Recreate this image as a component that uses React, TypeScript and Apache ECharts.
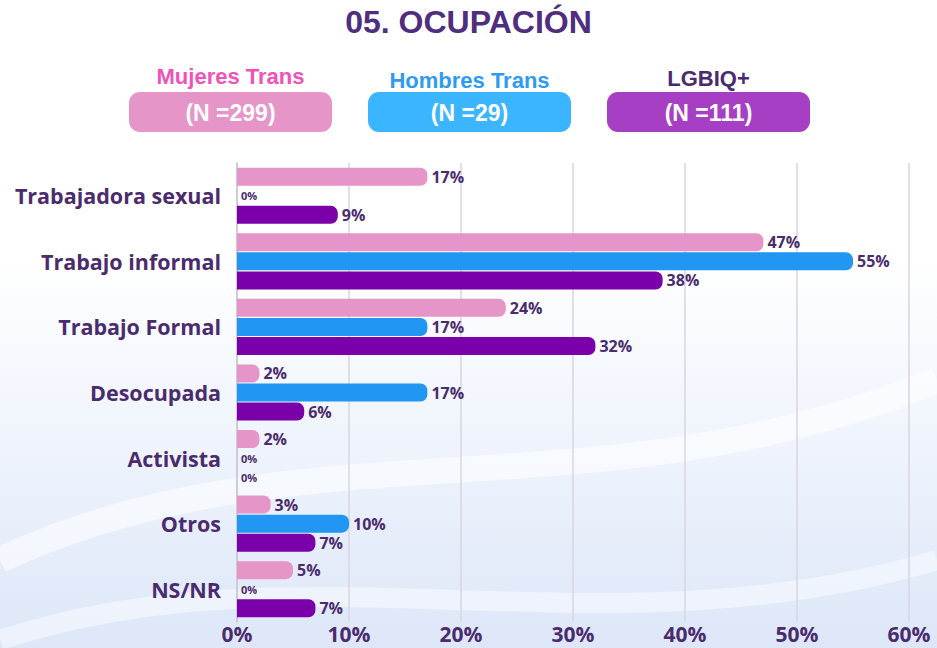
import React, { useEffect, useRef } from "react";
import * as echarts from "echarts";

const categories = ["Trabajadora sexual", "Trabajo informal", "Trabajo Formal", "Desocupada", "Activista", "Otros", "NS/NR"];
const mujeresTrans = [17, 47, 24, 2, 2, 3, 5];
const hombresTrans = [0, 55, 17, 17, 0, 10, 0];
const lgbiq = [9, 38, 32, 6, 0, 7, 7];
const xTicks = [0, 10, 20, 30, 40, 50, 60];
const groups = [
  { name: "Mujeres Trans", n: "(N =299)", titleColor: "#F052B9", box: "#E595C8", bar: "#E595C8", values: mujeresTrans, titleY: 76 },
  { name: "Hombres Trans", n: "(N =29)", titleColor: "#2E9BF0", box: "#3BB5FF", bar: "#2196F3", values: hombresTrans, titleY: 80 },
  { name: "LGBIQ+", n: "(N =111)", titleColor: "#4A2C6E", box: "#A63FC4", bar: "#7A00AA", values: lgbiq, titleY: 78 },
];

const TEXT = "#4A2C6E";
const SANS = "'Liberation Sans', Arial, sans-serif";

export default function App() {
  const ref = useRef<HTMLDivElement>(null);
  useEffect(() => {
    if (!ref.current) return;
    const chart = echarts.init(ref.current, undefined, { renderer: "svg" });
    const boxX = [129, 368, 607];
    const graphic: any[] = [
      {
        type: "rect",
        silent: true,
        z: -10,
        shape: { x: 0, y: 0, width: 937, height: 648 },
        style: {
          fill: new echarts.graphic.LinearGradient(0, 0, 0, 1, [
            { offset: 0, color: "#ffffff" },
            { offset: 0.4, color: "#ffffff" },
            { offset: 0.7, color: "#eef3fc" },
            { offset: 1, color: "#dde7f8" },
          ]),
        },
      },
      {
        type: "bezierCurve",
        silent: true,
        z: -9,
        shape: { x1: 0, y1: 560, x2: 937, y2: 380, cpx1: 300, cpy1: 420, cpx2: 600, cpy2: 520 },
        style: { stroke: "rgba(255,255,255,0.55)", lineWidth: 26, fill: null },
      },
      {
        type: "bezierCurve",
        silent: true,
        z: -9,
        shape: { x1: 0, y1: 640, x2: 937, y2: 560, cpx1: 300, cpy1: 540, cpx2: 600, cpy2: 660 },
        style: { stroke: "rgba(255,255,255,0.45)", lineWidth: 20, fill: null },
      },
      {
        type: "text",
        left: "center",
        top: 6,
        style: { text: "05. OCUPACIÓN", font: `bold 32px ${SANS}`, fill: "#4F2D7F" },
      },
    ];
    groups.forEach((g, i) => {
      graphic.push({
        type: "rect",
        shape: { x: boxX[i], y: 92, width: 203, height: 40, r: 11 },
        style: { fill: g.box },
      });
      graphic.push({
        type: "text",
        x: boxX[i] + 101.5,
        y: 113,
        style: { text: g.n, font: `bold 23px ${SANS}`, fill: "#ffffff", textAlign: "center", textVerticalAlign: "middle" },
      });
      graphic.push({
        type: "text",
        x: boxX[i] + 101.5,
        y: g.titleY,
        style: { text: g.name, font: `bold 22px ${SANS}`, fill: g.titleColor, textAlign: "center", textVerticalAlign: "middle" },
      });
    });

    const series = groups.map((g) => ({
      type: "bar",
      name: g.name,
      barWidth: 18,
      barGap: "6%",
      itemStyle: { color: g.bar, borderRadius: [0, 7, 7, 0] },
      data: g.values.map((v) => ({
        value: v,
        label: v === 0 ? { fontSize: 11 } : undefined,
      })),
      label: {
        show: true,
        position: "right",
        distance: 4,
        formatter: (p: any) => `${p.value}%`,
        color: TEXT,
        fontWeight: "bold",
        fontSize: 16,
        fontFamily: "'Open Sans', sans-serif",
      },
    }));

    chart.setOption({
      animation: false,
      graphic,
      grid: { left: 237, right: 28, top: 163, bottom: 26, containLabel: false },
      xAxis: {
        type: "value",
        min: xTicks[0],
        max: xTicks[xTicks.length - 1],
        interval: 10,
        axisLine: { show: false },
        axisTick: { show: false },
        splitLine: { show: true, lineStyle: { color: "#d9d5e2", width: 1.5 } },
        axisLabel: {
          formatter: (v: number) => `${v}%`,
          color: TEXT,
          fontWeight: "bold",
          fontSize: 21,
          fontFamily: "'Open Sans', sans-serif",
          margin: 1,
        },
      },
      yAxis: {
        type: "category",
        inverse: true,
        data: categories,
        axisLine: { show: true, lineStyle: { color: "#c9c5d2", width: 1.5 } },
        axisTick: { show: false },
        axisLabel: {
          color: TEXT,
          fontWeight: "bold",
          fontSize: 21.5,
          fontFamily: "'Open Sans', sans-serif",
          margin: 16,
        },
      },
      series,
    });
    return () => chart.dispose();
  }, []);
  return <div ref={ref} style={{ width: 937, height: 648, position: "absolute", left: 0, top: 0 }} />;
}
